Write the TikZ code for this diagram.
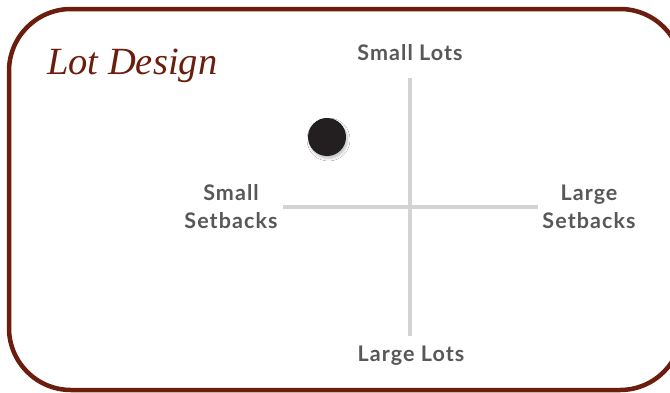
\documentclass[tikz,border=0pt]{standalone}
\usepackage{fontspec}
\setmainfont{Liberation Serif}
\newfontfamily\labelfont[LetterSpace=5]{Lato}
\usetikzlibrary{shadows,shadows.blur}
\definecolor{framebrown}{HTML}{6B1E0E}
\definecolor{axisgray}{HTML}{D3D3D3}
\definecolor{labelgray}{HTML}{58585A}
\definecolor{dotblack}{HTML}{231F20}
\tikzset{
  axislabel/.style={font=\labelfont\bfseries\fontsize{21.5}{28}\selectfont, text=labelgray, align=center, inner sep=0pt},
  axisline/.style={draw=axisgray, line width=3.5pt},
}
\begin{document}
\begin{tikzpicture}[x=1pt,y=-1pt]
\useasboundingbox (0,0) rectangle (670,392);
\fill[white] (0,0) rectangle (670,392);
\begin{scope}
\clip (0,0) rectangle (670,392);
\draw[framebrown, line width=4.5pt, rounded corners=62pt] (9,9) rectangle (682,390);
\end{scope}
\node[anchor=base west, inner sep=0pt, text=framebrown, font=\itshape\fontsize{38.5}{40}\selectfont] (title) at (47,74) {Lot Design};
\coordinate (vt) at (410,78);
\coordinate (vb) at (410,336);
\coordinate (hl) at (283,207);
\coordinate (hr) at (538,207);
\draw[axisline] (vt) -- (vb);
\draw[axisline] (hl) -- (hr);
\node[axislabel] (smalllots) at (410,53) {Small Lots};
\node[axislabel] (largelots) at (411,356) {Large Lots};
\node[axislabel] (smallsb) at (231,207) {Small\\Setbacks};
\node[axislabel] (largesb) at (589,207) {Large\\Setbacks};
\node[circle, fill=dotblack, minimum size=38pt, inner sep=0pt, blur shadow={shadow xshift=1.5pt, shadow yshift=-2.5pt, shadow blur radius=2.5pt, shadow opacity=25}] (dot) at (327,137) {};
\end{tikzpicture}
\end{document}
